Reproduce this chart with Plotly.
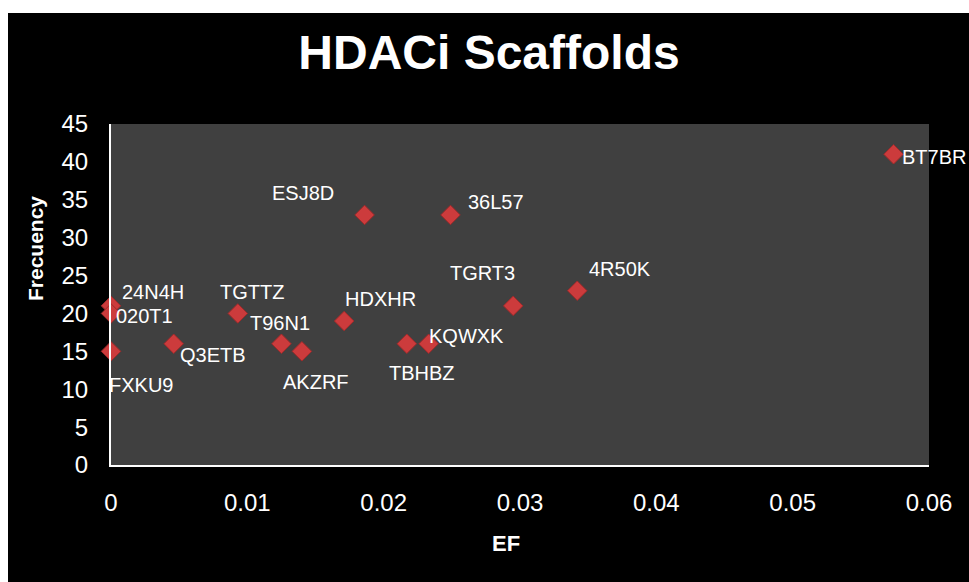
import plotly.graph_objects as go

# ---- data ----
names = ["BT7BR", "36L57", "ESJ8D", "4R50K", "TGRT3", "24N4H", "020T1", "FXKU9",
         "Q3ETB", "TGTTZ", "T96N1", "AKZRF", "HDXHR", "TBHBZ", "KQWXK"]
ef = [0.0574, 0.0249, 0.0186, 0.0342, 0.0295, 0.0, 0.0, 0.0,
      0.0046, 0.0093, 0.0125, 0.0140, 0.0171, 0.0217, 0.0233]
freq = [41, 33, 33, 23, 21, 21, 20, 15, 16, 20, 16, 15, 19, 16, 16]
x_ticks = [0, 0.01, 0.02, 0.03, 0.04, 0.05, 0.06]
x_tick_text = ["0", "0.01", "0.02", "0.03", "0.04", "0.05", "0.06"]
y_ticks = [0, 5, 10, 15, 20, 25, 30, 35, 40, 45]

# label placement (pixel offsets from the marker: right, up)
label_offsets = {
    "BT7BR": (40, -3), "36L57": (46, 13), "ESJ8D": (-62, 22), "4R50K": (43, 22),
    "TGRT3": (-31, 33), "24N4H": (42, 14), "020T1": (33, -3), "FXKU9": (30, -34),
    "Q3ETB": (39, -11), "TGTTZ": (14, 21), "T96N1": (-1, 21), "AKZRF": (14, -31),
    "HDXHR": (36, 22), "TBHBZ": (15, -29), "KQWXK": (38, 8),
}

FONT = "Liberation Sans, Arial, sans-serif"

fig = go.Figure()
fig.add_trace(go.Scatter(
    x=ef, y=freq, mode="markers",
    marker=dict(symbol="diamond", size=15, color="#CC3B3C",
                line=dict(color="#9E2A2A", width=1)),
    cliponaxis=False, hoverinfo="skip", showlegend=False,
))

annotations = []
for n, xv, yv in zip(names, ef, freq):
    dx, dy = label_offsets[n]
    annotations.append(dict(
        x=xv, y=yv, xref="x", yref="y", text=n, showarrow=False,
        xshift=dx, yshift=dy, xanchor="center", yanchor="middle",
        font=dict(family=FONT, size=20, color="white"),
    ))

W, H = 969, 582
L, R, T, B = 111, 40, 124, 117
pw, ph = W - L - R, H - T - B

def px_to_paper_x(px):
    return (px - L) / pw

def px_to_paper_y(py):
    return (H - B - py) / ph

annotations.append(dict(
    x=px_to_paper_x(35), y=px_to_paper_y(249), xref="paper", yref="paper",
    text="<b>Frecuency</b>", showarrow=False, textangle=-90,
    xanchor="center", yanchor="middle",
    font=dict(family=FONT, size=21, color="white"),
))
annotations.append(dict(
    x=px_to_paper_x(506), y=px_to_paper_y(543), xref="paper", yref="paper",
    text="<b>EF</b>", showarrow=False, xanchor="center", yanchor="middle",
    font=dict(family=FONT, size=22, color="white"),
))

shapes = [
    # white border strips (top and left) around the black chart area
    dict(type="rect", xref="paper", yref="paper",
         x0=px_to_paper_x(-5), x1=px_to_paper_x(W + 5),
         y0=px_to_paper_y(13), y1=px_to_paper_y(-5),
         fillcolor="white", line=dict(width=0), layer="above"),
    dict(type="rect", xref="paper", yref="paper",
         x0=px_to_paper_x(-5), x1=px_to_paper_x(8),
         y0=px_to_paper_y(H + 5), y1=px_to_paper_y(-5),
         fillcolor="white", line=dict(width=0), layer="above"),
]

fig.update_layout(
    width=W, height=H,
    margin=dict(l=L, r=R, t=T, b=B),
    paper_bgcolor="black", plot_bgcolor="#404040",
    font=dict(family=FONT, color="white"),
    title=dict(text="<b>HDACi Scaffolds</b>", x=489 / W, xref="container",
               y=1 - 52 / H, yref="container", xanchor="center", yanchor="middle",
               font=dict(family=FONT, size=48, color="white")),
    xaxis=dict(range=[0, 0.06], tickvals=x_ticks, ticktext=x_tick_text,
               showgrid=False, zeroline=False, showline=True, linecolor="white",
               linewidth=2, ticks="outside", ticklen=15,
               tickcolor="rgba(0,0,0,0)",
               tickfont=dict(family=FONT, size=24, color="white")),
    yaxis=dict(range=[0, 45], tickvals=y_ticks,
               showgrid=False, zeroline=False, showline=True, linecolor="white",
               linewidth=2, ticks="outside", ticklen=16,
               tickcolor="rgba(0,0,0,0)",
               tickfont=dict(family=FONT, size=24, color="white")),
    annotations=annotations, shapes=shapes,
)

fig.write_html(
    "out.html",
    config={"displayModeBar": False},
    post_script="document.body.style.margin='0';document.body.style.overflow='hidden';",
)
